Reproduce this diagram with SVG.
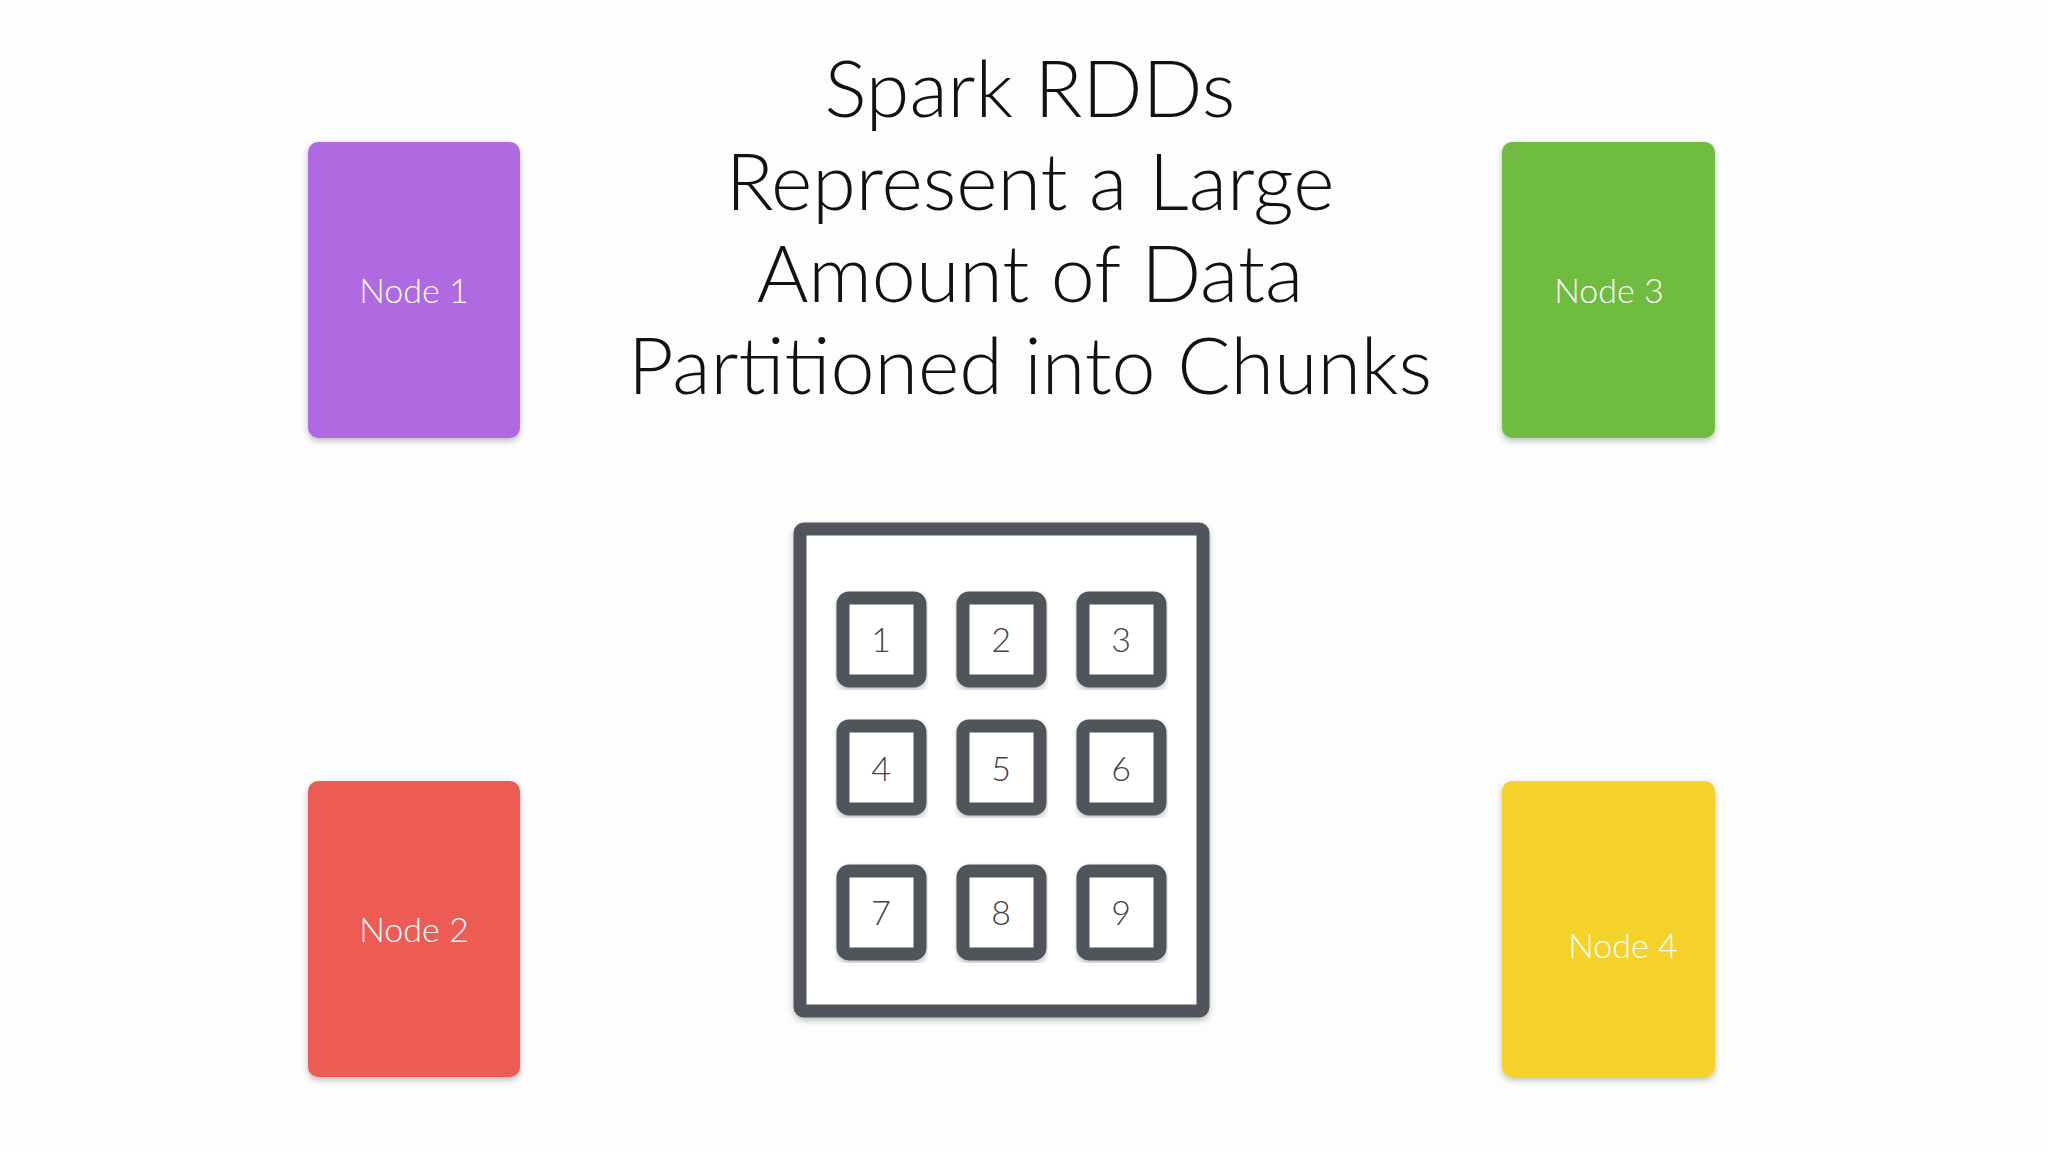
<svg xmlns="http://www.w3.org/2000/svg" width="2048" height="1152" viewBox="0 0 2048 1152">
<defs>
<style>
.title{font-family:Lato,"Liberation Sans",sans-serif;font-weight:300;font-size:79px;fill:#111;text-anchor:middle}
.nl{font-family:Lato,"Liberation Sans",sans-serif;font-weight:300;font-size:34px;fill:#fff;text-anchor:middle}
.card{stroke:none}
.box{fill:#fff;stroke:#50545a;stroke-width:13;stroke-linejoin:round}
.num{font-family:Lato,"Liberation Sans",sans-serif;font-weight:300;font-size:34px;fill:#444;text-anchor:middle}
</style>
<filter id="sh" x="-10%" y="-10%" width="120%" height="120%"><feDropShadow dx="0" dy="3" stdDeviation="3" flood-opacity="0.25"/></filter>
</defs>
<rect width="2048" height="1152" fill="#fdfdfd"/>
<g id="title">
<text class="title" x="1030" y="117">Spark RDDs</text>
<text class="title" x="1030" y="210">Represent a Large</text>
<text class="title" x="1030" y="302">Amount of Data</text>
<text class="title" x="1030" y="394">Partitioned into Chunks</text>
</g>
<g id="node1"><rect class="card" x="308" y="142" width="212" height="296" rx="10" fill="#B06BE1" filter="url(#sh)"/><text class="nl" x="414" y="303">Node 1</text></g>
<g id="node3"><rect class="card" x="1502" y="142" width="213" height="296" rx="10" fill="#70BC40" filter="url(#sh)"/><text class="nl" x="1609" y="303">Node 3</text></g>
<g id="node2"><rect class="card" x="308" y="781" width="212" height="296" rx="10" fill="#EC5C55" filter="url(#sh)"/><text class="nl" x="414" y="942">Node 2</text></g>
<g id="node4"><rect class="card" x="1502" y="781" width="213" height="296" rx="10" fill="#F5D22C" filter="url(#sh)"/><text class="nl" x="1623" y="958">Node 4</text></g>
<g id="rdd">
<rect class="box" x="800" y="529" width="403" height="482" rx="4" stroke-width="14" filter="url(#sh)"/>
<g id="p1"><rect class="box" x="843" y="598" width="77" height="83" rx="6" filter="url(#sh)"/><text class="num" x="881" y="652">1</text></g>
<g id="p2"><rect class="box" x="963" y="598" width="77" height="83" rx="6" filter="url(#sh)"/><text class="num" x="1001" y="652">2</text></g>
<g id="p3"><rect class="box" x="1083" y="598" width="77" height="83" rx="6" filter="url(#sh)"/><text class="num" x="1121" y="652">3</text></g>
<g id="p4"><rect class="box" x="843" y="726" width="77" height="83" rx="6" filter="url(#sh)"/><text class="num" x="881" y="781">4</text></g>
<g id="p5"><rect class="box" x="963" y="726" width="77" height="83" rx="6" filter="url(#sh)"/><text class="num" x="1001" y="781">5</text></g>
<g id="p6"><rect class="box" x="1083" y="726" width="77" height="83" rx="6" filter="url(#sh)"/><text class="num" x="1121" y="781">6</text></g>
<g id="p7"><rect class="box" x="843" y="871" width="77" height="83" rx="6" filter="url(#sh)"/><text class="num" x="881" y="925">7</text></g>
<g id="p8"><rect class="box" x="963" y="871" width="77" height="83" rx="6" filter="url(#sh)"/><text class="num" x="1001" y="925">8</text></g>
<g id="p9"><rect class="box" x="1083" y="871" width="77" height="83" rx="6" filter="url(#sh)"/><text class="num" x="1121" y="925">9</text></g>
</g>
<g id="connectors"/>
</svg>
